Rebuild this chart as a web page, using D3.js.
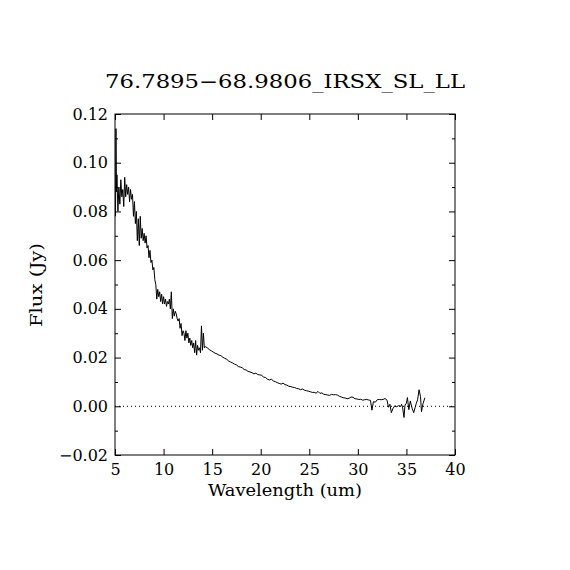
<!DOCTYPE html>
<html>
<head>
<meta charset="utf-8">
<script src="https://cdn.jsdelivr.net/npm/d3@7"></script>
<style>
  body { margin: 0; background: #fff; }
  text { font-family: "DejaVu Serif", serif; fill: #000; }
</style>
</head>
<body>
<div id="chart-area"></div>
<script>
// spectrum: SL part (noisy) then LL part (smooth)
let waveSL = [5.05, 5.10, 5.15, 5.20, 5.30, 5.40, 5.50, 5.60, 5.70, 5.80, 5.90,
  6.00, 6.10, 6.20, 6.30, 6.40, 6.50, 6.60, 6.70, 6.80, 6.90,
  7.00, 7.10, 7.20, 7.30, 7.40, 7.50, 7.60, 7.70, 7.80, 7.90,
  8.00, 8.10, 8.20, 8.30, 8.40, 8.50, 8.60, 8.70, 8.80, 8.90,
  9.00, 9.10, 9.20, 9.30, 9.40, 9.50, 9.60, 9.70, 9.80, 9.90,
  10.00, 10.10, 10.20, 10.30, 10.40, 10.50, 10.60, 10.70, 10.80, 10.90,
  11.00, 11.10, 11.20, 11.30, 11.40, 11.50, 11.60, 11.70, 11.80, 11.90,
  12.00, 12.10, 12.20, 12.30, 12.40, 12.50, 12.60, 12.70, 12.80, 12.90,
  13.00, 13.10, 13.20, 13.30, 13.40, 13.50, 13.60, 13.70, 13.80, 13.90,
  14.00, 14.10, 14.20];
let fluxSL = [0.078, 0.114, 0.088, 0.095, 0.080, 0.090, 0.083, 0.093, 0.086, 0.089, 0.082,
  0.094, 0.086, 0.091, 0.087, 0.090, 0.084, 0.089, 0.085, 0.087, 0.078,
  0.084, 0.075, 0.080, 0.068, 0.077, 0.066, 0.078, 0.069, 0.073, 0.068,
  0.071, 0.067, 0.070, 0.065, 0.066, 0.061, 0.064, 0.059, 0.060, 0.056,
  0.057, 0.052, 0.050, 0.044, 0.048, 0.045, 0.047, 0.043, 0.046, 0.042,
  0.045, 0.042, 0.044, 0.041, 0.043, 0.042, 0.044, 0.040, 0.047, 0.036,
  0.040, 0.037, 0.039, 0.038, 0.036, 0.035, 0.036, 0.032, 0.034, 0.029,
  0.031, 0.030, 0.027, 0.031, 0.028, 0.030, 0.026, 0.028, 0.025, 0.027,
  0.024, 0.026, 0.022, 0.027, 0.021, 0.025, 0.023, 0.024, 0.022, 0.033,
  0.023, 0.030, 0.024];

let waveLL = [14.3, 14.5, 14.7, 14.9, 15.1, 15.3, 15.5, 15.7, 15.9,
  16.1, 16.3, 16.5, 16.7, 16.9, 17.1, 17.3, 17.5, 17.7, 17.9,
  18.1, 18.3, 18.5, 18.7, 18.9, 19.1, 19.3, 19.5, 19.7, 19.9,
  20.1, 20.3, 20.5, 20.7, 20.9, 21.1, 21.3, 21.5, 21.7, 21.9,
  22.1, 22.3, 22.5, 22.7, 22.9, 23.1, 23.3, 23.5, 23.7, 23.9,
  24.1, 24.3, 24.5, 24.7, 24.9, 25.1, 25.3, 25.5, 25.7, 25.9,
  26.1, 26.3, 26.5, 26.7, 26.9, 27.1, 27.3, 27.5, 27.7, 27.9,
  28.1, 28.3, 28.5, 28.7, 28.9, 29.1, 29.3, 29.5, 29.7, 29.9,
  30.1, 30.3, 30.5, 30.7, 30.9, 31.1, 31.3, 31.45, 31.6, 31.8,
  32.0, 32.2, 32.4, 32.6, 32.8, 33.0, 33.15, 33.3, 33.45, 33.6, 33.8,
  34.0, 34.2, 34.4, 34.5, 34.6, 34.75, 34.85, 35.0, 35.1, 35.25, 35.4,
  35.5, 35.6, 35.75, 35.9, 36.0, 36.15, 36.3, 36.45, 36.55, 36.7, 36.9];
let fluxLL = [0.0245, 0.0240, 0.0233, 0.0228, 0.0223, 0.0218, 0.0215, 0.0210, 0.0208,
  0.0201, 0.0197, 0.0193, 0.0186, 0.0182, 0.0178, 0.0173, 0.0170, 0.0163, 0.0161,
  0.0158, 0.0151, 0.0149, 0.0143, 0.0141, 0.0138, 0.0133, 0.0136, 0.0130, 0.0129,
  0.0127, 0.0120, 0.0118, 0.0111, 0.0108, 0.0111, 0.0104, 0.0101, 0.0097, 0.0094,
  0.0091, 0.0095, 0.0089, 0.0087, 0.0082, 0.0081, 0.0078, 0.0077, 0.0073, 0.0072,
  0.0068, 0.0071, 0.0066, 0.0064, 0.0062, 0.0060, 0.0057, 0.0057, 0.0054, 0.0061,
  0.0053, 0.0055, 0.0049, 0.0048, 0.0046, 0.0045, 0.0049, 0.0047, 0.0048, 0.0046,
  0.0041, 0.0038, 0.0035, 0.0034, 0.0031, 0.0033, 0.0038, 0.0037, 0.0031, 0.0030,
  0.0028, 0.0029, 0.0025, 0.0027, 0.0028, 0.0026, 0.0024, -0.0016, 0.0019, 0.0017,
  0.0027, 0.0028, 0.0027, 0.0028, 0.0032, 0.0025, -0.0004, 0.0008, -0.0026, -0.0010, 0.0002,
  -0.0002, 0.0003, -0.0001, 0.0008, -0.0003, -0.0046, 0.0005, 0.0013, 0.0036, -0.0014, 0.0022,
  0.0005, -0.0010, -0.0026, -0.0005, 0.0010, 0.0027, 0.0068, 0.0040, -0.0022, 0.0010, 0.0035];

let xTicks = [5, 10, 15, 20, 25, 30, 35, 40];
let yTicks = [-0.02, 0.00, 0.02, 0.04, 0.06, 0.08, 0.10, 0.12];
let yMinor = [-0.01, 0.01, 0.03, 0.05, 0.07, 0.09, 0.11];

let title = "76.7895\u221268.9806_IRSX_SL_LL";

let data = [];
waveSL.forEach((w, i) => data.push({ w: w, f: fluxSL[i] }));
waveLL.forEach((w, i) => data.push({ w: w, f: fluxLL[i] }));

let pLeft = 115, pRight = 455, pTop = 114, pBottom = 455;

let svg = d3.select('#chart-area')
            .append('svg')
            .attr('width', 570)
            .attr('height', 570);

let x = d3.scaleLinear().domain([5, 40]).range([pLeft, pRight]);
let y = d3.scaleLinear().domain([-0.02, 0.12]).range([pBottom, pTop]);

// zero line
svg.append('line')
   .attr('x1', pLeft).attr('x2', pRight)
   .attr('y1', y(0)).attr('y2', y(0))
   .attr('stroke', '#000')
   .attr('stroke-width', 1)
   .attr('stroke-dasharray', '1,3');

// spectrum
let line = d3.line()
             .x(d => x(d.w))
             .y(d => y(d.f));

svg.append('path')
   .datum(data)
   .attr('d', line)
   .attr('fill', 'none')
   .attr('stroke', '#000')
   .attr('stroke-width', 1);

// axes, ticks pointing inward
function styleAxis(g) {
  g.select('.domain').remove();
  g.selectAll('.tick line').attr('stroke', '#000').attr('stroke-width', 1);
  g.selectAll('.tick text').attr('font-size', 16).attr('font-family', '"DejaVu Serif", serif').attr('fill', '#000');
}

let yFmt = d3.format('.2f');

svg.append('g')
   .attr('transform', `translate(0,${pBottom})`)
   .call(d3.axisBottom(x).tickValues(xTicks).tickSize(-6).tickPadding(9).tickFormat(d3.format('d')))
   .call(styleAxis);

svg.append('g')
   .attr('transform', `translate(0,${pTop})`)
   .call(d3.axisTop(x).tickValues(xTicks).tickSize(-6).tickFormat(''))
   .call(styleAxis);

svg.append('g')
   .attr('transform', `translate(${pLeft},0)`)
   .call(d3.axisLeft(y).tickValues(yTicks).tickSize(-6).tickPadding(7).tickFormat(yFmt))
   .call(styleAxis);

svg.append('g')
   .attr('transform', `translate(${pLeft},0)`)
   .call(d3.axisLeft(y).tickValues(yMinor).tickSize(-3).tickFormat(''))
   .call(styleAxis);

svg.append('g')
   .attr('transform', `translate(${pRight},0)`)
   .call(d3.axisRight(y).tickValues(yTicks).tickSize(-6).tickFormat(''))
   .call(styleAxis);

svg.append('g')
   .attr('transform', `translate(${pRight},0)`)
   .call(d3.axisRight(y).tickValues(yMinor).tickSize(-3).tickFormat(''))
   .call(styleAxis);

// frame
svg.append('rect')
   .attr('x', pLeft).attr('y', pTop)
   .attr('width', pRight - pLeft).attr('height', pBottom - pTop)
   .attr('fill', 'none')
   .attr('stroke', '#000')
   .attr('stroke-width', 1);

// labels
svg.append('text')
   .attr('x', (pLeft + pRight) / 2)
   .attr('y', 88)
   .attr('text-anchor', 'middle')
   .attr('font-size', 19)
   .attr('textLength', 360)
   .attr('lengthAdjust', 'spacingAndGlyphs')
   .text(title);

svg.append('text')
   .attr('x', (pLeft + pRight) / 2)
   .attr('y', 496)
   .attr('text-anchor', 'middle')
   .attr('font-size', 16)
   .attr('textLength', 154)
   .attr('lengthAdjust', 'spacingAndGlyphs')
   .text('Wavelength (um)');

svg.append('text')
   .attr('transform', 'translate(42,285) rotate(-90)')
   .attr('text-anchor', 'middle')
   .attr('font-size', 16)
   .attr('textLength', 84)
   .attr('lengthAdjust', 'spacingAndGlyphs')
   .text('Flux (Jy)');
</script>
</body>
</html>
